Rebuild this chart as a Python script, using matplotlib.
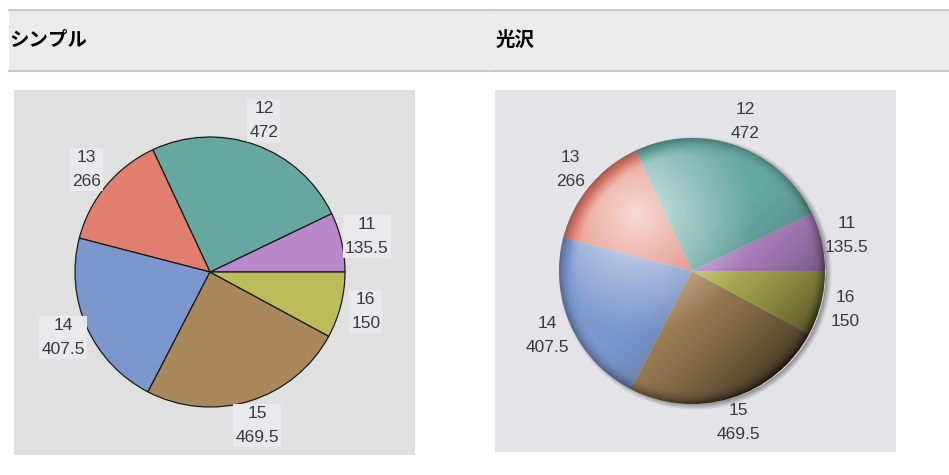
import numpy as np
import matplotlib
matplotlib.use('Agg')
import matplotlib.pyplot as plt
from matplotlib.patches import Circle, Rectangle

plt.rcParams['font.family'] = ['Liberation Sans', 'Noto Sans CJK JP', 'DejaVu Sans']

# data
categories = ['11', '12', '13', '14', '15', '16']
values = [135.5, 472, 266, 407.5, 469.5, 150]
colors = ['#b788ca', '#66a8a0', '#e07f6f', '#7b97cd', '#a9885c', '#bcbc5a']
titles = ['シンプル', '光沢']

W, H = 949, 475
fig = plt.figure(figsize=(W / 100, H / 100), dpi=100)
fig.patch.set_facecolor('white')

# page background / header band, in pixel units
bg = fig.add_axes([0, 0, 1, 1], zorder=0)
bg.set_xlim(0, W)
bg.set_ylim(H, 0)
bg.axis('off')
bg.add_patch(Rectangle((9, 9), W - 9, 62, facecolor='#ebebeb', edgecolor='none'))
bg.plot([9, W], [9.5, 9.5], color='#cacaca', lw=1.5)
bg.plot([9, W], [71, 71], color='#cacaca', lw=1.5)
bg.plot([490, 490], [10, 70], color='#e6e6e6', lw=0.6)
bg.text(9, 40, titles[0], fontsize=14, fontweight='bold', va='center',
        family=['Noto Sans CJK JP', 'DejaVu Sans'])
bg.text(496, 40, titles[1], fontsize=14, fontweight='bold', va='center',
        family=['Noto Sans CJK JP', 'DejaVu Sans'])

# panel backgrounds
bg.add_patch(Rectangle((14, 90), 401, 365, facecolor='#e0e0e0', edgecolor='none'))
bg.add_patch(Rectangle((495, 90), 401, 362, facecolor='#e3e3e8', edgecolor='none'))

labels = [f'{c}\n{v:g}' for c, v in zip(categories, values)]


def pie_axes(left, top, right, bottom, cx, cy, r):
    ax = fig.add_axes([left / W, 1 - bottom / H, (right - left) / W, (bottom - top) / H], zorder=1)
    wedges, texts = ax.pie(values, labels=labels, colors=colors, startangle=0,
                           counterclock=True, labeldistance=1.19, radius=1,
                           textprops=dict(fontsize=12.5, color='#3a3a3a', linespacing=1.75))
    for t in texts:
        t.set_ha('center')
        t.set_va('center')
    ax.set_aspect('auto')
    ax.set_xlim((left - cx) / r, (right - cx) / r)
    ax.set_ylim((cy - bottom) / r, (cy - top) / r)
    return ax, wedges, texts


# simple pie
ax1, w1, t1 = pie_axes(14, 90, 415, 455, 210, 272, 135)
for w in w1:
    w.set_edgecolor('#1a1a1a')
    w.set_linewidth(0.9)
for t in t1:
    t.set_bbox(dict(boxstyle='square,pad=0.12', fc='#e9e9ec', ec='none'))

# glossy pie
ax2, w2, t2 = pie_axes(495, 90, 896, 452, 692, 271, 133)
for w in w2:
    w.set_edgecolor('none')
    w.set_linewidth(0)

n = 500
g = np.linspace(-1.25, 1.25, n)
X, Y = np.meshgrid(g, g)
R = np.hypot(X, Y)

# soft drop shadow around the disk
Rs = np.hypot(X - 0.02, Y + 0.02)
sh = np.zeros((n, n, 4))
sh[..., 3] = 0.4 * np.clip(1 - (Rs - 0.98) / 0.05, 0, 1) * (Rs > 0.98)
ax2.imshow(sh, extent=(-1.25, 1.25, -1.25, 1.25), origin='lower', zorder=0.5,
           interpolation='bilinear')

clip = Circle((0, 0), 1, transform=ax2.transData)

# darkening toward lower right and the rim
dk = np.clip(((X - Y) / np.sqrt(2) + 0.15) / 1.25, 0, 1) ** 1.6 * 0.65
dk = np.clip(dk + np.clip((R - 0.9) / 0.1, 0, 1) ** 2 * 0.3, 0, 1)
dark = np.zeros((n, n, 4))
dark[..., 3] = dk
im = ax2.imshow(dark, extent=(-1.25, 1.25, -1.25, 1.25), origin='lower', zorder=1.5,
                interpolation='bilinear')
im.set_clip_path(clip)

# highlight toward upper left
hl = np.clip(1 - np.hypot(X + 0.42, Y - 0.42) / 0.9, 0, 1) ** 1.1 * 0.72
hl = hl * np.clip((0.95 - R) / 0.08, 0, 1)
light = np.ones((n, n, 4))
light[..., 3] = hl
im2 = ax2.imshow(light, extent=(-1.25, 1.25, -1.25, 1.25), origin='lower', zorder=1.6,
                 interpolation='bilinear')
im2.set_clip_path(Circle((0, 0), 1, transform=ax2.transData))

ax2.set_xlim((495 - 692) / 133, (896 - 692) / 133)
ax2.set_ylim((271 - 452) / 133, (271 - 90) / 133)
ax2.set_aspect('auto')

fig.savefig('out.png', dpi=100)
